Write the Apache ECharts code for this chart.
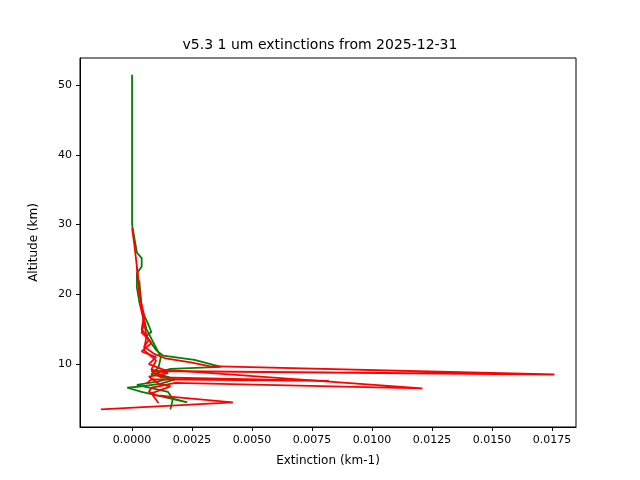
<!DOCTYPE html><html><head><meta charset="utf-8">
<script src="https://cdn.jsdelivr.net/npm/echarts@6/dist/echarts.min.js"></script>
<style>body{margin:0}#c{width:640px;height:480px}</style></head><body><div id="c"></div><script>
// each profile: [extinction, altitude]
const green1=[[0,51.5],[0,45],[0,40],[0,35],[0,30],[0.0001,28],[0.0002,26],[0.0004,25.2],[0.0004,24],[0.0002,23],[0.0002,21],[0.0003,19],[0.0005,17],[0.0007,15.5],[0.0008,14.6],[0.0006,14],[0.0008,13],[0.001,12],[0.0013,11.2],[0.0026,10.6],[0.0037,9.6],[0.0016,9.3],[0.001,8.7],[0.0018,7.8],[0.0012,7.2],[0.0004,6.8],[-0.0002,6.6],[0.0004,6],[0.0023,4.5],[0.0012,5.5]];
const green2=[[0.0003,22],[0.0004,18],[0.0006,15],[0.0009,13],[0.0012,11],[0.0011,9.5],[0.0008,8.5],[0.0016,8],[0.0011,7.5],[0.0002,7],[0.0015,6],[0.0017,5],[0.0016,3.5]];
const red1=[[0,29.5],[0.0001,27],[0.0002,24],[0.0003,21],[0.0004,18],[0.0005,16],[0.0004,14.5],[0.0007,13.5],[0.0005,12.5],[0.0009,11.5],[0.0014,10.8],[0.0025,10.2],[0.0032,9.7],[0.0176,8.5],[0.0008,9],[0.0012,8.1],[0.0082,7.6],[0.0008,7.8],[0.0006,7.2]];
const red2=[[0.0002,24],[0.0003,20],[0.0005,17],[0.0004,15],[0.0008,13],[0.0004,11.8],[0.001,11],[0.0007,10],[0.0013,9.2],[0.0121,6.5],[0.0018,7.3],[0.0008,6.6],[0.0007,6],[0.001,5.5],[0.0042,4.5],[-0.0013,3.5]];
const red3=[[0.0003,19],[0.0005,16],[0.0006,14],[0.0005,12],[0.001,10.5],[0.0008,9.2],[0.0015,8.7],[0.0007,8.2],[0.0011,7.2],[0.0016,6.8],[0.0008,5.8],[0.0011,4.4]];
const xTicks=[0,0.0025,0.005,0.0075,0.01,0.0125,0.015,0.0175];
const yTicks=[10,20,30,40,50];
const mk=(d,c)=>({type:'line',data:d,showSymbol:false,lineStyle:{color:c,width:1.8},silent:true,z:c==='#ff0000'?3:2});
const ch=echarts.init(document.getElementById('c'));
ch.setOption({animation:false,
title:{text:'v5.3 1 um extinctions from 2025-12-31',left:'center',top:33,textStyle:{fontFamily:'DejaVu Sans',fontSize:14,fontWeight:'normal',color:'#000'}},
grid:{left:80,right:64,top:58,bottom:53,show:true,borderColor:'#000',borderWidth:1},
xAxis:{type:'value',min:-0.00217,max:0.0185,name:'Extinction (km-1)',nameLocation:'middle',nameGap:28,
nameTextStyle:{fontFamily:'DejaVu Sans',fontSize:12,color:'#000'},splitLine:{show:false},
axisLine:{onZero:false,lineStyle:{color:'#000'}},axisTick:{customValues:xTicks,lineStyle:{color:'#000'},length:4},
axisLabel:{customValues:xTicks,fontFamily:'DejaVu Sans',fontSize:11,color:'#000',formatter:v=>v.toFixed(4)}},
yAxis:{type:'value',min:0.97,max:53.9,name:'Altitude (km)',nameLocation:'middle',nameGap:40,
nameTextStyle:{fontFamily:'DejaVu Sans',fontSize:12,color:'#000'},splitLine:{show:false},
axisLine:{onZero:false,lineStyle:{color:'#000'}},axisTick:{customValues:yTicks,lineStyle:{color:'#000'},length:4},
axisLabel:{customValues:yTicks,fontFamily:'DejaVu Sans',fontSize:11,color:'#000',formatter:v=>String(v)}},
series:[mk(green1,'#008000'),mk(green2,'#008000'),mk(red1,'#ff0000'),mk(red2,'#ff0000'),mk(red3,'#ff0000')]});
</script></body></html>
